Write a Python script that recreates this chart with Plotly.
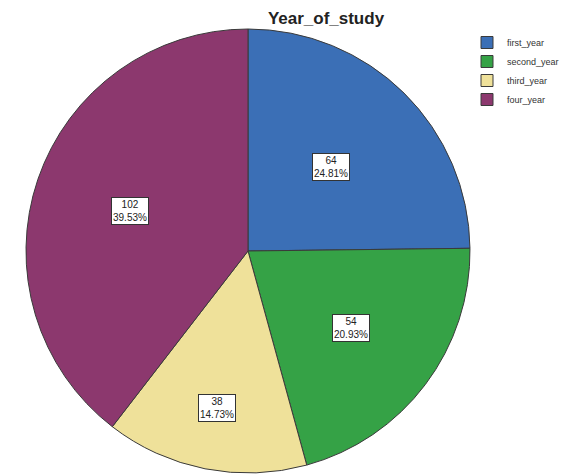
import math
import plotly.graph_objects as go

# ---- data ----
categories = ["first_year", "second_year", "third_year", "four_year"]
counts = [64, 54, 38, 102]
percent_labels = ["24.81%", "20.93%", "14.73%", "39.53%"]

# ---- style ----
colors = ["#3b6fb6", "#35a246", "#efe19a", "#8c386e"]
label_radius = [0.53, 0.58, 0.72, 0.56]

# page body has an 8px margin, so the figure is drawn 8px smaller
W, H = 559, 466
cx, cy, R = 240.0, 243.0, 222.0
dom_x = [(cx - R) / W, (cx + R) / W]
dom_y = [1 - (cy + R) / H, 1 - (cy - R) / H]

fig = go.Figure(go.Pie(
    labels=categories,
    values=counts,
    sort=False,
    direction="clockwise",
    rotation=0,
    textinfo="none",
    hoverinfo="label+value+percent",
    marker=dict(colors=colors, line=dict(color="#3a3a3a", width=1)),
    domain=dict(x=dom_x, y=dom_y),
))

# label boxes placed from the data (cumulative slice angles)
total = sum(counts)
cum = 0
annotations = []
for c, p, lr in zip(counts, percent_labels, label_radius):
    mid = (cum + c / 2) / total * 2 * math.pi
    cum += c
    px = cx + lr * R * math.sin(mid)
    py = cy - lr * R * math.cos(mid)
    annotations.append(dict(
        x=px / W, y=1 - py / H, xref="paper", yref="paper",
        xanchor="center", yanchor="middle",
        text=f"{c}<br>{p}", showarrow=False,
        font=dict(family="Liberation Sans, Arial", size=10, color="#222"),
        bgcolor="white", bordercolor="#333", borderwidth=1, borderpad=1,
        align="center",
    ))

fig.update_layout(
    width=W, height=H,
    margin=dict(l=0, r=0, t=0, b=0),
    paper_bgcolor="white",
    title=dict(text="<b>Year_of_study</b>", x=318 / W, xanchor="center",
               y=1 - 10 / H, yanchor="middle",
               font=dict(family="Liberation Sans, Arial", size=17, color="#222")),
    legend=dict(x=459 / W, y=1 - 20 / H, xanchor="left", yanchor="top",
                font=dict(family="Liberation Sans, Arial", size=9, color="#333"),
                itemwidth=30, tracegroupgap=0, bgcolor="rgba(0,0,0,0)"),
    annotations=annotations,
)

fig.write_html("out.html")
